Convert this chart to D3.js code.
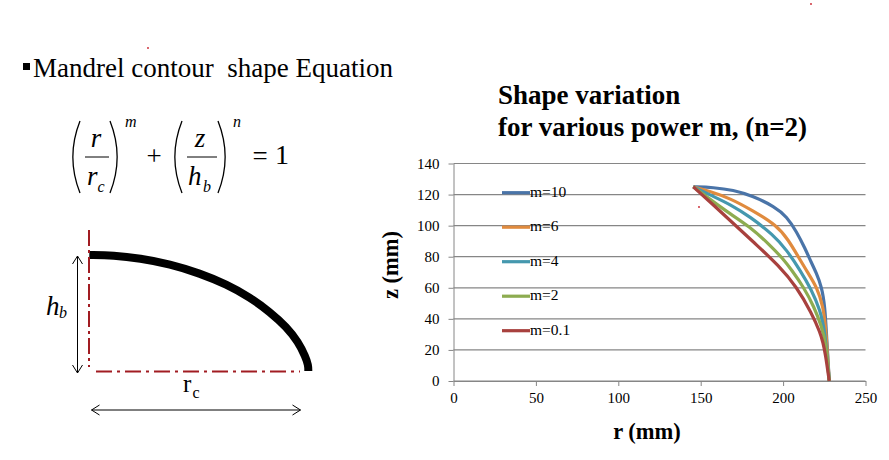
<!DOCTYPE html>
<html>
<head>
<meta charset="utf-8">
<script src="https://cdn.jsdelivr.net/npm/d3@7"></script>
<style>
  html, body { margin: 0; padding: 0; background: #fff; }
  text { font-family: "Liberation Serif", serif; fill: #000; }
  .axis path { stroke: #868686; }
  .axis line { stroke: #868686; }
</style>
</head>
<body>
<div id="chart"></div>
<script>
var seriesNames = ["m=10", "m=6", "m=4", "m=2", "m=0.1"];
var seriesColors = ["#4a74a8", "#e08b3e", "#4598ae", "#8dac50", "#a8413e"];

var r10 = [145.5, 157.7, 169.8, 181, 195.1, 202.2, 208.2, 213.3, 217.3, 220, 223.4, 225.4, 226.4, 228];
var z10 = [125, 124.6, 122.9, 119.3, 112.2, 105.8, 96.1, 85.4, 75.8, 70, 60.7, 47.8, 28.5, 0];
var r6 = [145.5, 155.6, 167.8, 181, 196, 203.2, 209.2, 214.8, 220.4, 224.4, 226, 228];
var z6 = [125, 122, 117.6, 110, 100.4, 90.8, 80, 70, 60.7, 47.8, 32.8, 0];
var r4 = [145.5, 157.7, 167.8, 179.9, 194.1, 202.2, 210.3, 217.3, 222.4, 225.4, 228];
var z4 = [125, 118.8, 113.7, 105.8, 94, 84.3, 71.4, 58.6, 45.7, 32.8, 0];
var r2 = [145.5, 154.6, 165.8, 179.9, 192, 200.1, 205.2, 212.3, 218.8, 223.4, 226, 228];
var z2 = [125, 117.8, 109, 99.3, 87.5, 78.5, 71.4, 60.7, 47.8, 35, 24.3, 0];
var r01 = [145.5, 157.7, 170.8, 184, 197.1, 208.2, 217.3, 222.6, 224.2, 225.6, 228];
var z01 = [125, 113.3, 100.4, 87.5, 74.5, 60.7, 43.7, 31, 24.5, 18, 0];

var seriesR = [r10, r6, r4, r2, r01];
var seriesZ = [z10, z6, z4, z2, z01];

var xTicks = [0, 50, 100, 150, 200, 250];
var yTicks = [0, 20, 40, 60, 80, 100, 120, 140];

// the contour sketch on the left, as fractions of rc and hb
var sketchR = [0, 0.11, 0.231, 0.368, 0.505, 0.627, 0.734, 0.825, 0.901, 0.954, 0.987, 1, 1];
var sketchZ = [1, 0.997, 0.971, 0.922, 0.842, 0.747, 0.635, 0.509, 0.379, 0.25, 0.124, 0.05, 0];

var svg = d3.select("#chart").append("svg")
    .attr("width", 889)
    .attr("height", 460)
    .style("display", "block");

var x = d3.scaleLinear().domain([0, 250]).range([453.5, 865.5]);
var y = d3.scaleLinear().domain([0, 140]).range([381, 163.5]);

var xAxis = svg.append("g")
    .attr("class", "axis")
    .attr("transform", "translate(0," + y(0) + ")")
    .call(d3.axisBottom(x).tickValues(xTicks).tickSize(5).tickSizeOuter(0));
xAxis.selectAll("text")
    .attr("dy", "0")
    .attr("y", 22)
    .attr("font-size", 15)
    .attr("font-family", "Liberation Serif");

var yAxis = svg.append("g")
    .attr("class", "axis")
    .attr("transform", "translate(" + x(0) + ",0)")
    .call(d3.axisLeft(y).tickValues(yTicks).tickSize(5).tickSizeOuter(0));
yAxis.selectAll("text")
    .attr("x", -14)
    .attr("font-size", 15)
    .attr("font-family", "Liberation Serif");

svg.append("g")
    .attr("class", "axis")
    .selectAll("line")
    .data(yTicks)
    .enter()
    .append("line")
    .attr("x1", x(0))
    .attr("x2", x(250))
    .attr("y1", function(d) { return y(d); })
    .attr("y2", function(d) { return y(d); })
    .attr("stroke-width", 1.2);

var line = d3.line().curve(d3.curveBasis);

seriesNames.forEach(function(name, i) {
    var pts = d3.zip(seriesR[i], seriesZ[i]).map(function(p) {
        return [x(p[0]), y(p[1])];
    });
    svg.append("path")
        .attr("d", line(pts))
        .attr("fill", "none")
        .attr("stroke", seriesColors[i])
        .attr("stroke-width", 3.2);
});

var legend = svg.selectAll(".legend")
    .data(seriesNames)
    .enter()
    .append("g")
    .attr("class", "legend")
    .attr("transform", function(d, i) {
        return "translate(502," + (192.7 + i * 34.5) + ")";
    });
legend.append("line")
    .attr("x2", 28)
    .attr("stroke", function(d, i) { return seriesColors[i]; })
    .attr("stroke-width", 3.2);
legend.append("text")
    .attr("x", 28)
    .attr("y", 4)
    .attr("font-size", 15.5)
    .text(function(d) { return d; });

svg.append("text").attr("x", 498).attr("y", 104)
    .attr("font-size", 27).attr("font-weight", "bold").text("Shape variation");
svg.append("text").attr("x", 498).attr("y", 136)
    .attr("font-size", 27).attr("font-weight", "bold").text("for various power m, (n=2)");
svg.append("text").attr("x", 647).attr("y", 439).attr("text-anchor", "middle")
    .attr("font-size", 22.5).attr("font-weight", "bold").text("r (mm)");
svg.append("text").attr("transform", "translate(398,265) rotate(-90)").attr("text-anchor", "middle")
    .attr("font-size", 22.5).attr("font-weight", "bold").text("z (mm)");

// left heading
svg.append("rect").attr("x", 23).attr("y", 63).attr("width", 7).attr("height", 7).attr("fill", "#000");
svg.append("text").attr("x", 33).attr("y", 77).attr("font-size", 27)
    .style("white-space", "pre")
    .text("Mandrel contour  shape Equation");

// equation
function paren(x0, x1, top, bottom) {
    var p = d3.path();
    p.moveTo(x1, top);
    p.quadraticCurveTo(x0 - (x1 - x0) * 0.3, (top + bottom) / 2, x1, bottom);
    return p.toString();
}
var parens = [[69, 80, 121, 193], [121, 110, 121, 193], [171, 182, 121, 193], [229, 218, 121, 193]];
svg.selectAll(".paren")
    .data(parens)
    .enter()
    .append("path")
    .attr("class", "paren")
    .attr("d", function(d) { return paren(d[0], d[1], d[2], d[3]); })
    .attr("fill", "none")
    .attr("stroke", "#000")
    .attr("stroke-width", 1.3);

svg.append("line").attr("x1", 85).attr("x2", 109).attr("y1", 157).attr("y2", 157).attr("stroke", "#000");
svg.append("line").attr("x1", 187).attr("x2", 217).attr("y1", 157).attr("y2", 157).attr("stroke", "#000");

function eq(txt, px, py, size, italic, anchor) {
    svg.append("text")
        .attr("x", px).attr("y", py)
        .attr("font-size", size)
        .attr("font-style", italic ? "italic" : "normal")
        .attr("text-anchor", anchor || "start")
        .text(txt);
}
eq("r", 96, 147, 27, true, "middle");
eq("r", 87, 185, 27, true);
eq("c", 97.5, 192, 16, true);
eq("m", 125, 127, 16, true);
eq("+", 154, 165, 27, false, "middle");
eq("z", 200, 147, 27, true, "middle");
eq("h", 188, 185, 27, true);
eq("b", 203, 192, 16, true);
eq("n", 233, 127, 16, true);
eq("=", 260, 165, 27, false, "middle");
eq("1", 282, 164, 28, false, "middle");

// contour sketch
var sx = d3.scaleLinear().domain([0, 1]).range([89.3, 308.3]);
var sy = d3.scaleLinear().domain([0, 1]).range([371, 255]);
svg.append("path")
    .attr("d", line(d3.zip(sketchR, sketchZ).map(function(p) {
        return [sx(p[0]), sy(p[1])];
    })))
    .attr("fill", "none")
    .attr("stroke", "#000")
    .attr("stroke-width", 8);

svg.append("line").attr("x1", 89).attr("x2", 89).attr("y1", 230).attr("y2", 367)
    .attr("stroke", "#a11c22").attr("stroke-width", 2).attr("stroke-dasharray", "16,4,3,4");
svg.append("line").attr("x1", 96).attr("x2", 300).attr("y1", 371.5).attr("y2", 371.5)
    .attr("stroke", "#a11c22").attr("stroke-width", 2).attr("stroke-dasharray", "16,5,3,5");

function arrow(x1, y1, x2, y2) {
    var dx = x2 - x1, dy = y2 - y1, len = Math.sqrt(dx * dx + dy * dy);
    var ux = dx / len, uy = dy / len, s = 8, w = 5;
    var p = d3.path();
    p.moveTo(x1 + ux * s - uy * w, y1 + uy * s + ux * w);
    p.lineTo(x1, y1);
    p.lineTo(x1 + ux * s + uy * w, y1 + uy * s - ux * w);
    p.moveTo(x1, y1);
    p.lineTo(x2, y2);
    p.moveTo(x2 - ux * s - uy * w, y2 - uy * s + ux * w);
    p.lineTo(x2, y2);
    p.lineTo(x2 - ux * s + uy * w, y2 - uy * s - ux * w);
    svg.append("path").attr("d", p.toString()).attr("fill", "none").attr("stroke", "#000").attr("stroke-width", 1);
}
arrow(77.5, 256, 77.5, 373);
arrow(91.5, 410, 300.5, 410);

eq("h", 46, 315, 27, true);
eq("b", 59, 318, 16, true);
eq("r", 183, 392, 25, false);
eq("c", 192.5, 398, 16, false);

// small red specks in the scan
var speckX = [148, 699, 811];
var speckY = [48, 207, 4];
svg.selectAll(".speck")
    .data(d3.zip(speckX, speckY))
    .enter()
    .append("circle")
    .attr("class", "speck")
    .attr("cx", function(d) { return d[0]; })
    .attr("cy", function(d) { return d[1]; })
    .attr("r", 0.9)
    .attr("fill", "#c8202a");
</script>
</body>
</html>
